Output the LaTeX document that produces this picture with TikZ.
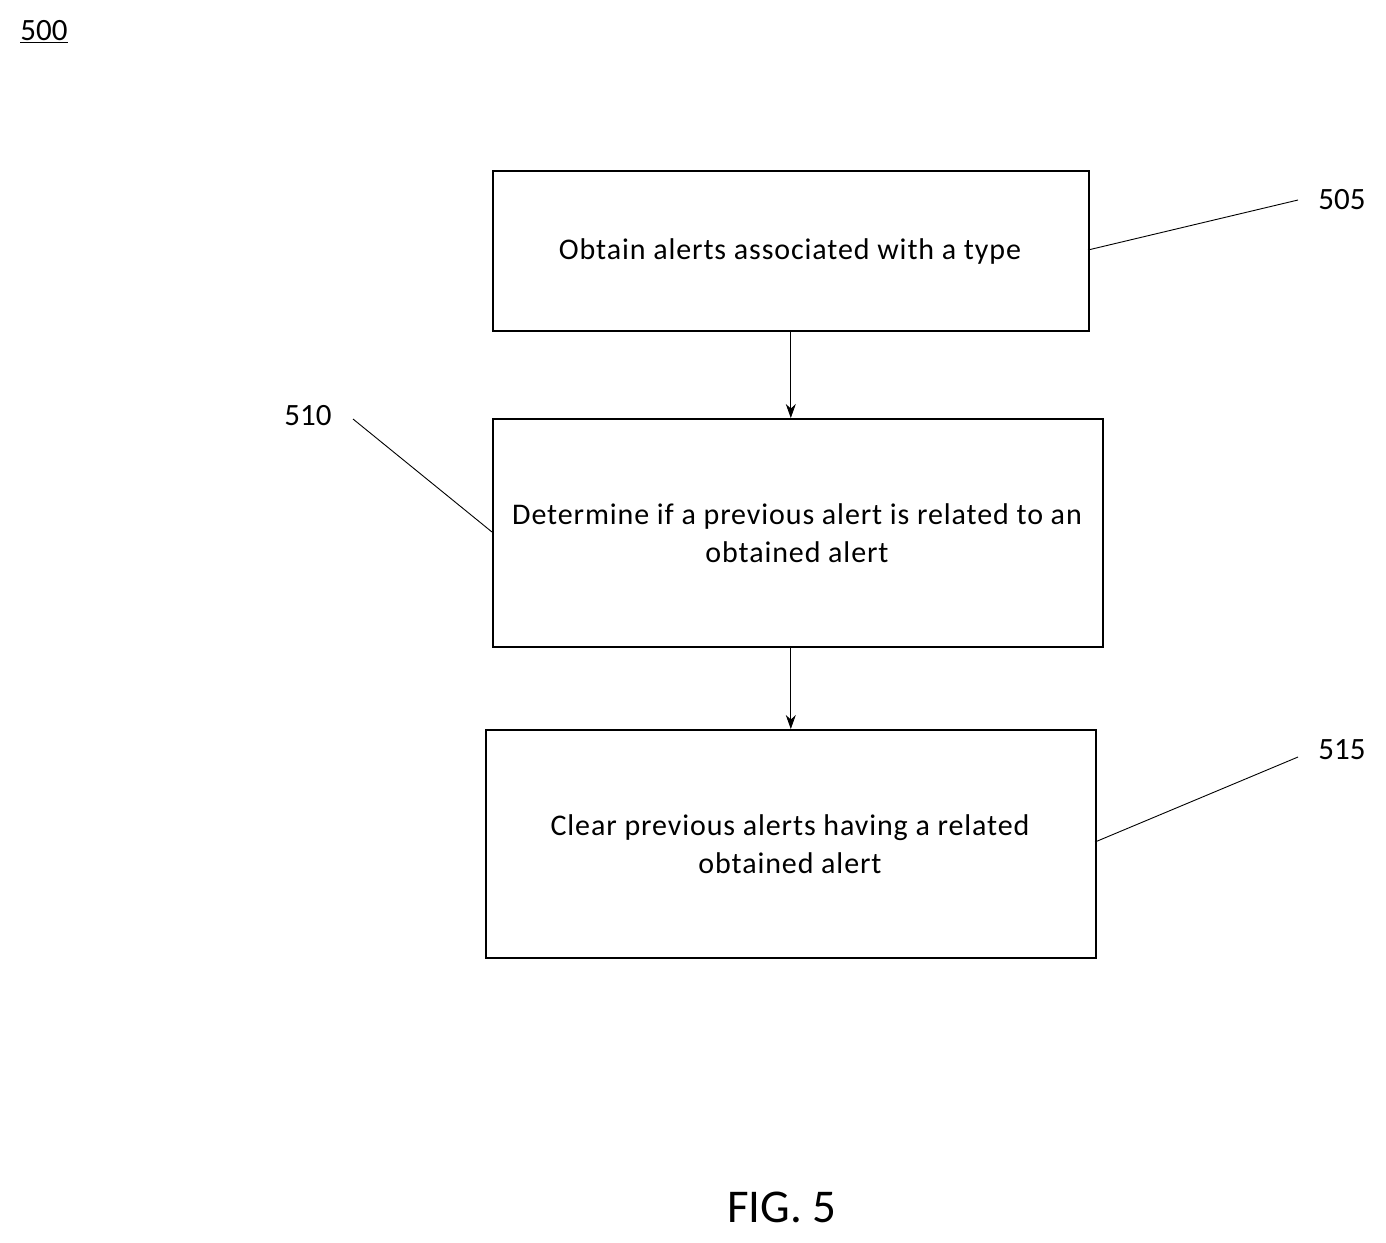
\documentclass[tikz,border=0pt]{standalone}
\usepackage{fontspec}
\setmainfont{Carlito}
\usetikzlibrary{arrows.meta}
\begin{document}
\begin{tikzpicture}[x=1pt,y=-1pt,
  box/.style={draw,line width=1.6pt,anchor=north west,inner sep=0pt},
  txt/.style={font=\fontsize{30}{38}\selectfont,align=center},
  lbl/.style={font=\fontsize{31}{34}\selectfont},
  arr/.style={-{Stealth[length=14pt,width=10pt]},line width=0.9pt},
  lead/.style={line width=0.9pt}]
\useasboundingbox (0,0) rectangle (1386,1242);
\node[box,minimum width=596pt,minimum height=160pt] (b1) at (492,170) {};
\node[box,minimum width=610pt,minimum height=228pt] (b2) at (492,418) {};
\node[box,minimum width=610pt,minimum height=228pt] (b3) at (485,729) {};
\node[txt] (t1) at (790,251) {\addfontfeature{LetterSpace=3}Obtain alerts associated with a type};
\node[txt,font=\fontsize{30}{38}\selectfont\addfontfeature{LetterSpace=3}] (t2) at (797,533) {Determine if a previous alert is related to an\\obtained alert};
\node[txt,font=\fontsize{30}{38}\selectfont\addfontfeature{LetterSpace=3}] (t3) at (790,844) {Clear previous alerts having a related\\obtained alert};
\draw[arr] (b1.south) -- (b1.south |- b2.north);
\draw[arr] (b1.south |- b2.south) -- (b1.south |- b3.north);
\node[lbl] (l505) at (1342,200) {505};
\node[lbl] (l510) at (308,416) {510};
\node[lbl] (l515) at (1342,750) {515};
\coordinate (c1) at (1298,200);
\coordinate (c2) at (353,419);
\coordinate (c3) at (1298,757);
\draw[lead] (c1) -- (1088,250);
\draw[lead] (c2) -- (492,532);
\draw[lead] (c3) -- (1095,842);
\node[lbl] (l500) at (44,32) {\underline{500}};
\node[font=\fontsize{47}{50}\selectfont] (fig) at (782,1207) {FIG. 5};
\end{tikzpicture}
\end{document}
